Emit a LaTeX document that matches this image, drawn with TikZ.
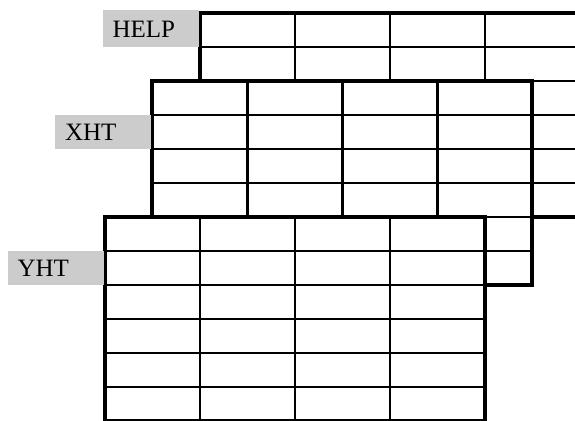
\documentclass[tikz,border=0pt]{standalone}
\usepackage{fontspec}
\setmainfont{Liberation Serif}
\usepackage{tikz}
\usetikzlibrary{positioning}

\begin{document}
\begin{tikzpicture}[x=0.5pt,y=-0.5pt,
    cell/.style={line width=1.1pt},
    frame/.style={line width=2pt},
    tag/.style={fill=black!20, anchor=north east, inner xsep=5pt, inner ysep=0pt,
      text width=38pt, align=left, minimum height=17pt, font=\fontsize{12.5}{14}\selectfont}]
  % Page
  \useasboundingbox (0,0) rectangle (575,420);
  \clip (0,0) rectangle (575,420);
  % Sheets, back to front: 4 columns x 6 rows each
  \foreach \x/\y in {200/13, 152.5/81, 105/217} {
    \fill[white] (\x,\y) rectangle (\x+380,\y+204);
    \foreach \i in {1,2,3}
      \draw[cell] (\x+95*\i,\y) -- (\x+95*\i,\y+204);
    \foreach \j in {1,...,5}
      \draw[cell] (\x,\y+34*\j) -- (\x+380,\y+34*\j);
    \draw[frame] (\x,\y) rectangle (\x+380,\y+204);
  }
  % Labels
  \node[tag, minimum height=18.5pt] (help) at (199,10) {HELP};
  \node[tag] (xht) at (151.5,115) {XHT};
  \node[tag] (yht) at (104,251) {YHT};
\end{tikzpicture}
\end{document}
